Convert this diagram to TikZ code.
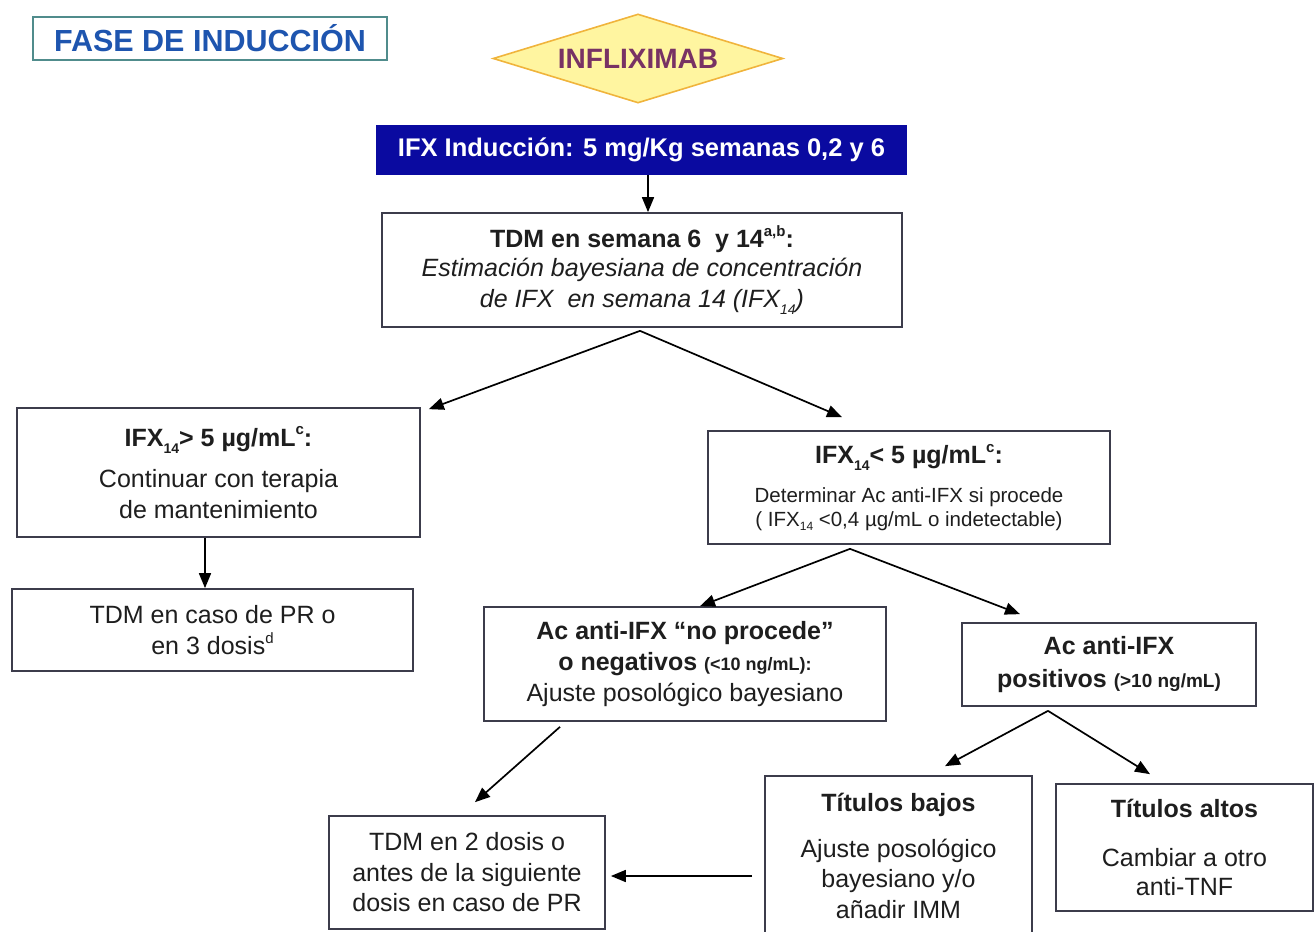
\documentclass[tikz,border=0pt]{standalone}
\usepackage{fontspec}
\setmainfont{Liberation Sans}
\usetikzlibrary{arrows.meta,shapes.geometric}
\definecolor{boxline}{RGB}{60,60,75}
\definecolor{txt}{RGB}{30,30,30}
\definecolor{faseline}{RGB}{80,140,140}
\definecolor{fasetext}{RGB}{30,85,175}
\definecolor{dfill}{RGB}{255,245,160}
\definecolor{dline}{RGB}{240,180,60}
\definecolor{dtext}{RGB}{120,50,100}
\definecolor{bluebox}{RGB}{10,10,160}
\newcommand\mysub[1]{\raisebox{-0.28em}{\fontsize{14}{14}\selectfont #1}}
\newcommand\mysup[1]{\raisebox{0.45em}{\fontsize{15}{15}\selectfont #1}}
\begin{document}
\begin{tikzpicture}[x=1pt,y=-1pt,
  box/.style={draw=boxline,line width=1.7pt,fill=white,align=center,inner sep=0pt,text=txt,font=\fontsize{25}{31}\selectfont},
  arr/.style={draw=black,line width=1.7pt,-{Triangle[length=15pt,width=12pt]}}]
\useasboundingbox (0,0) rectangle (1315,932);

% title
\node[draw=faseline,line width=1.5pt,minimum width=354pt,minimum height=43pt,inner sep=0pt,
      text=fasetext,font=\bfseries\fontsize{30.5}{36}\selectfont] (fase) at (210,38.5) {FASE DE INDUCCIÓN};

% diamond
\node[diamond,aspect=3.26,draw=dline,fill=dfill,line width=1.6pt,inner sep=0pt,
      minimum width=290pt,minimum height=89pt,text=dtext,
      font=\bfseries\fontsize{28}{32}\selectfont] (inf) at (638,58.5) {INFLIXIMAB};

% blue box
\node[fill=bluebox,minimum width=531pt,minimum height=50pt,inner sep=0pt,text=white,
      font=\bfseries\fontsize{25.5}{30}\selectfont] (blue) at (641.5,150) {IFX Inducción: 5 mg/Kg semanas 0,2 y 6};

% TDM box
\node[box,minimum width=520pt,minimum height=114pt] (tdm) at (642,270)
  {{\bfseries TDM en semana 6\ \ y 14\mysup{a,b}:}\\[-2pt]
   {\itshape Estimación bayesiana de concentración}\\
   {\itshape de IFX\ \ en semana 14 (IFX\mysub{14})}};

% left branch
\node[box,minimum width=403pt,minimum height=129pt] (left) at (218.5,472.5)
  {{\bfseries IFX\mysub{14}> 5 µg/mL\mysup{c}:}\\[10pt]
   Continuar con terapia\\ de mantenimiento};
\node[box,minimum width=401pt,minimum height=82pt] (left2) at (212.5,630)
  {TDM en caso de PR o\\ en 3 dosis\mysup{d}};

% right branch
\node[box,minimum width=402pt,minimum height=113pt] (right) at (909,487.5)
  {{\bfseries IFX\mysub{14}< 5 µg/mL\mysup{c}:}\\[8pt]
   {\fontsize{20.5}{24}\selectfont Determinar Ac anti-IFX si procede}\\[-7pt]
   {\fontsize{20.5}{24}\selectfont ( IFX{\fontsize{12}{12}\selectfont\raisebox{-0.3em}{14}} <0,4 µg/mL o indetectable)}};

\node[box,minimum width=402pt,minimum height=114pt] (neg) at (685,664)
  {{\bfseries Ac anti-IFX “no procede”}\\
   {\bfseries o negativos {\fontsize{18}{22}\selectfont(<10 ng/mL):}}\\
   Ajuste posológico bayesiano};

\node[box,minimum width=294pt,minimum height=83pt] (pos) at (1109,664.5)
  {{\bfseries Ac anti-IFX}\\[2pt]
   {\bfseries positivos {\fontsize{19}{22}\selectfont(>10 ng/mL)}}};

\node[box,minimum width=276pt,minimum height=113pt] (tdm2) at (467,872.5)
  {TDM en 2 dosis o\\ antes de la siguiente\\[-1pt] dosis en caso de PR};

\node[box,minimum width=267pt,minimum height=160pt] (bajos) at (898.5,856)
  {{\bfseries Títulos bajos}\\[15pt]
   Ajuste posológico\\[-1pt] bayesiano y/o\\ añadir IMM};

\node[box,minimum width=257pt,minimum height=127pt] (altos) at (1184.5,847.5)
  {{\bfseries Títulos altos}\\[18pt]
   Cambiar a otro\\[-2pt] anti-TNF};

% connectors
\draw[arr] ([shift={(6.5,0)}]blue.south) -- ([shift={(6,0)}]tdm.north);

\coordinate (s1) at ([shift={(-2,3)}]tdm.south);
\draw[arr] (s1) -- ([shift={(8,2)}]left.north east);
\draw[arr] (s1) -- ([shift={(-67,-13)}]right.north);

\draw[arr] ([shift={(-13.5,0)}]left.south) -- ([shift={(-7.5,0)}]left2.north);

\coordinate (s2) at ([shift={(-59,4)}]right.south);
\draw[arr] (s2) -- ([shift={(15,0)}]neg.north);
\draw[arr] (s2) -- ([shift={(-89,-8)}]pos.north);

\coordinate (s3) at ([shift={(-61,4)}]pos.south);
\draw[arr] (s3) -- ([shift={(46.5,-9)}]bajos.north);
\draw[arr] (s3) -- ([shift={(-34.5,-9)}]altos.north);

\draw[arr] ([shift={(-125,5)}]neg.south) -- ([shift={(8,-13)}]tdm2.north);

\draw[arr] ([shift={(-12,20)}]bajos.west) -- ([shift={(5,3.5)}]tdm2.east);
\end{tikzpicture}
\end{document}
